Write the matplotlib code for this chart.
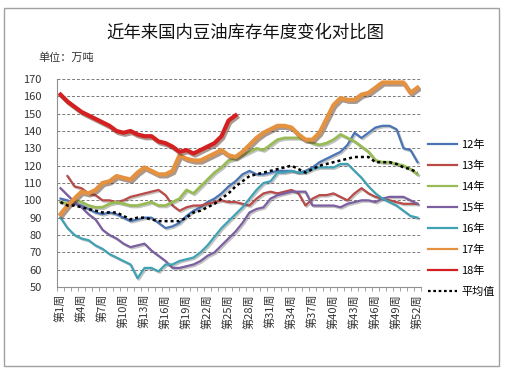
import numpy as np
import matplotlib
matplotlib.use("Agg")
import matplotlib.pyplot as plt
import matplotlib.patheffects as pe
from matplotlib.patches import Rectangle

plt.rcParams['font.family'] = ['Noto Sans CJK SC', 'DejaVu Sans']

# weeks and tick labels
weeks = np.arange(1, 53)
tick_weeks = np.arange(1, 53, 3)
tick_labels = ["第%d周" % w for w in tick_weeks]

# weekly stocks (万吨)
y12 = [101, 100, 98, 97, 95, 93, 92, 93, 92, 90, 88, 89, 90, 90, 87, 84, 85, 87, 91, 94,
       96, 99, 101, 104, 108, 111, 115, 117, 115, 115, 116, 117, 117, 117, 116, 117, 119, 122, 124, 126,
       128, 132, 139, 136, 139, 142, 143, 143, 141, 130, 129, 122]
y13 = [np.nan, 114, 108, 107, 104, 103, 100, 100, 99, 100, 102, 103, 104, 105, 106, 103, 97, 94, 96, 97,
       97, 98, 99, 100, 99, 99, 98, 97, 101, 104, 105, 104, 105, 106, 104, 97, 101, 103, 103, 104,
       102, 100, 104, 107, 104, 102, 101, 100, 99, 98, 98, 98]
y14 = [99, 98, 100, 99, 97, 96, 96, 98, 99, 98, 97, 97, 98, 99, 97, 97, 99, 101, 106, 104,
       108, 112, 116, 119, 123, 124, 126, 128, 130, 129, 132, 135, 136, 136, 136, 135, 133, 132, 133, 135,
       138, 136, 134, 131, 128, 123, 122, 122, 121, 120, 118, 115]
y15 = [107, 103, 99, 96, 92, 89, 83, 80, 78, 75, 73, 74, 75, 71, 68, 65, 61, 61, 62, 63,
       65, 68, 70, 74, 78, 82, 87, 93, 95, 96, 101, 103, 104, 105, 105, 105, 97, 97, 97, 97,
       96, 98, 99, 100, 100, 99, 101, 102, 102, 102, 100, 98]
y16 = [90, 84, 80, 78, 77, 74, 72, 69, 67, 65, 63, 55, 61, 61, 59, 63, 63, 65, 66, 67,
       70, 74, 79, 84, 88, 92, 96, 101, 106, 110, 111, 116, 116, 117, 116, 116, 118, 119, 119, 119,
       121, 121, 117, 113, 108, 104, 101, 99, 97, 94, 91, 90]
y17 = [92, 97, 101, 105, 104, 106, 110, 111, 114, 113, 112, 116, 119, 117, 115, 115, 117, 126, 124, 123,
       123, 125, 127, 129, 126, 125, 128, 132, 136, 139, 141, 143, 143, 142, 138, 135, 135, 139, 147, 155,
       159, 158, 158, 161, 162, 165, 168, 168, 168, 168, 162, 165]
y18 = [161, 157, 154, 151, 149, 147, 145, 143, 140, 139, 140, 138, 137, 137, 134, 133, 131, 128, 129, 127,
       129, 131, 133, 137, 146, 149]
yavg = [99, 97, 97, 96, 95, 94, 93, 93, 93, 91, 89, 90, 90, 89, 88, 88, 88, 88, 90, 93,
        94, 96, 98, 101, 104, 108, 111, 114, 115, 116, 117, 118, 119, 120, 118, 116, 118, 120, 121, 122,
        123, 124, 125, 125, 125, 122, 122, 122, 121, 119, 118, 116]

fig = plt.figure(figsize=(5.07, 3.74), dpi=100)
fig.patch.set_facecolor('white')
# chart frame
fig.patches.append(Rectangle((4 / 507, 1 - 366 / 374), 495 / 507, 358 / 374,
                             transform=fig.transFigure, fill=False,
                             edgecolor='#a0a0a0', linewidth=1.0))

ax = fig.add_axes([57 / 507, 1 - 287 / 374, 364 / 507, 208 / 374])

shadow = [pe.SimpleLineShadow(offset=(1, -1), shadow_color='#555555', alpha=0.35), pe.Normal()]
shadow_big = [pe.SimpleLineShadow(offset=(1.2, -1.5), shadow_color='#553322', alpha=0.5), pe.Normal()]

ax.plot(weeks, y12, color='#4a74b4', lw=1.6, label='12年', path_effects=shadow)
ax.plot(weeks, y13, color='#b84a48', lw=1.6, label='13年', path_effects=shadow)
ax.plot(weeks, y14, color='#98bb55', lw=2.0, label='14年', path_effects=shadow)
ax.plot(weeks, y15, color='#7b5fa0', lw=1.6, label='15年', path_effects=shadow)
ax.plot(weeks, y16, color='#3fa2b4', lw=1.6, label='16年', path_effects=shadow)
ax.plot(weeks, y17, color='#e49140', lw=3.0, label='17年', path_effects=shadow_big)
ax.plot(weeks[:len(y18)], y18, color='#d42020', lw=3.0, label='18年', path_effects=shadow_big)
ax.plot(weeks, yavg, color='black', lw=1.8, ls=(0, (1.2, 1.2)), label='平均值')

ax.set_xlim(0.5, 52.5)
ax.set_ylim(50, 170)
ax.set_yticks(np.arange(50, 171, 10))
ax.yaxis.grid(True, ls=(0, (3, 2)), color='#7a7a7a', lw=0.7)
ax.set_axisbelow(True)
for s in ['top', 'right']:
    ax.spines[s].set_visible(False)
ax.spines['left'].set_color('#909090')
ax.spines['bottom'].set_color('#909090')
ax.tick_params(axis='y', length=0, pad=11, labelsize=8, labelcolor='#333333')

ax.set_xticks(tick_weeks)
ax.set_xticklabels(tick_labels, rotation=90, fontsize=8, color='#333333')
ax.set_xticks(np.arange(0.5, 53, 1), minor=True)
ax.tick_params(axis='x', which='major', length=0, pad=5)
ax.tick_params(axis='x', which='minor', length=3, color='#909090')

fig.text(245 / 507, 1 - 33 / 374, '近年来国内豆油库存年度变化对比图', ha='center', va='center',
         fontsize=12.5, color='#111111')
fig.text(38 / 507, 1 - 58 / 374, '单位：万吨', ha='left', va='center', fontsize=8, color='#333333')

leg = fig.legend(loc='upper left', bbox_to_anchor=(428 / 507, 1 - 140 / 374),
                 frameon=False, fontsize=8, handlelength=2.6, handletextpad=0.4,
                 labelspacing=0.95, borderpad=0, borderaxespad=0)
for line in leg.get_lines():
    line.set_linewidth(1.6)
    line.set_path_effects([])

fig.savefig('out.png', dpi=100)
